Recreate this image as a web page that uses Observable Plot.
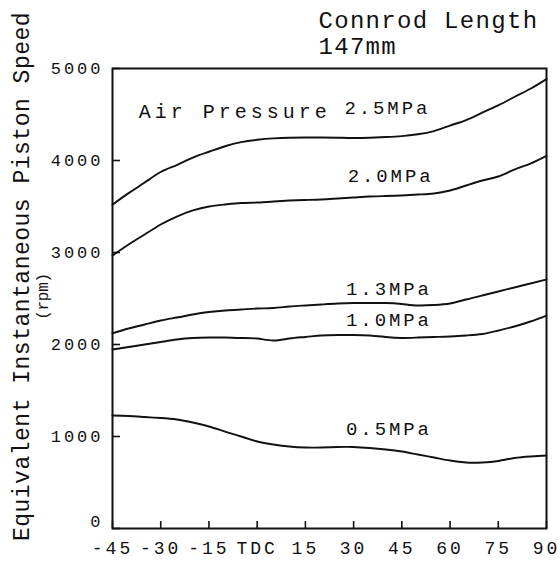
<!DOCTYPE html>
<html>
<head>
<meta charset="utf-8">
<script src="https://cdn.jsdelivr.net/npm/d3@7"></script>
<script src="https://cdn.jsdelivr.net/npm/@observablehq/plot@0.6"></script>
<style>
  html, body { margin: 0; padding: 0; background: #fff; }
  #chart svg { display: block; }
  [aria-label="x-axis tick label"], [aria-label="y-axis tick label"] { letter-spacing: 3px; }
</style>
</head>
<body>
<div id="chart"></div>
<script>
// Crank angle (degrees, TDC = 0)
const angles = [-45, -40, -35, -30, -25, -20, -15, -10, -5, 0, 5, 10, 15, 20, 25, 30, 35, 40, 45, 50, 55, 60, 65, 70, 75, 80, 85, 90];

// Equivalent instantaneous piston speed (rpm) per air pressure
const p05 = [1228, 1223, 1212, 1201, 1185, 1152, 1109, 1054, 1000, 946, 913, 891, 880, 880, 886, 886, 875, 859, 837, 804, 772, 739, 717, 717, 734, 766, 783, 793];
const p10 = [1946, 1973, 2000, 2027, 2054, 2071, 2076, 2076, 2071, 2065, 2043, 2065, 2082, 2098, 2103, 2103, 2098, 2082, 2071, 2076, 2082, 2087, 2098, 2114, 2152, 2196, 2250, 2315];
const p13 = [2120, 2174, 2217, 2261, 2293, 2326, 2353, 2370, 2380, 2391, 2397, 2413, 2424, 2435, 2446, 2451, 2451, 2451, 2440, 2424, 2429, 2446, 2489, 2533, 2576, 2620, 2663, 2707];
const p20 = [2967, 3087, 3196, 3304, 3391, 3457, 3500, 3522, 3538, 3543, 3554, 3565, 3571, 3576, 3587, 3598, 3609, 3614, 3620, 3630, 3641, 3674, 3728, 3783, 3826, 3902, 3967, 4050];
const p25 = [3520, 3645, 3760, 3875, 3951, 4032, 4095, 4155, 4200, 4225, 4240, 4248, 4250, 4250, 4248, 4245, 4248, 4255, 4265, 4285, 4320, 4380, 4440, 4520, 4600, 4690, 4780, 4885];

const seriesNames = ["0.5MPa", "1.0MPa", "1.3MPa", "2.0MPa", "2.5MPa"];
const seriesValues = [p05, p10, p13, p20, p25];

// Label anchors (data coordinates)
const labelAngles = [41, 41, 41, 41.5, 40.5];
const labelSpeeds = [1087, 2272, 2609, 3837, 4576];

const xTickValues = [-45, -30, -15, 0, 15, 30, 45, 60, 75, 90];
const xTickLabels = ["-45", "-30", "-15", "TDC", "15", "30", "45", "60", "75", "90"];
const yTickValues = [0, 1000, 2000, 3000, 4000, 5000];

const titleText = "Connrod Length\n147mm";
const yTitle = "Equivalent Instantaneous Piston Speed";
const yUnit = "(rpm)";
const legendTitle = "Air Pressure";

const rows = [];
seriesNames.forEach((name, s) => {
  angles.forEach((a, i) => rows.push({series: name, angle: a, speed: seriesValues[s][i]}));
});
const labels = seriesNames.map((name, s) => ({name, angle: labelAngles[s], speed: labelSpeeds[s]}));

const font = "Liberation Mono";

const chart = Plot.plot({
  width: 560, height: 563,
  marginLeft: 112, marginRight: 14, marginTop: 68, marginBottom: 35,
  style: {fontFamily: font, fontSize: "18px", color: "#111", background: "#fff"},
  x: {domain: [-45, 90]},
  y: {domain: [0, 5000]},
  marks: [
    Plot.frame({stroke: "#111", strokeWidth: 2}),
    Plot.ruleX(xTickValues, {x: d => d, insetTop: 453, stroke: "#111", strokeWidth: 1.6}),
    Plot.ruleY(yTickValues, {y: d => d, insetRight: 426, stroke: "#111", strokeWidth: 1.6}),
    Plot.axisX({ticks: xTickValues, tickFormat: d => xTickLabels[xTickValues.indexOf(d)], tickSize: 0, tickPadding: 13, label: null, fontSize: 18, fill: "#111"}),
    Plot.axisY({ticks: yTickValues.filter(d => d > 0), tickFormat: d => String(d), tickSize: 0, tickPadding: 9, label: null, fontSize: 17, fill: "#111"}),
    Plot.axisY({ticks: [0], tickFormat: d => String(d), tickSize: 0, tickPadding: 9, label: null, fontSize: 17, fill: "#111", dy: -7}),
    Plot.line(rows, {x: "angle", y: "speed", z: "series", stroke: "#111", strokeWidth: 1.9, curve: "natural"}),
    Plot.text(labels, {x: "angle", y: "speed", text: "name", fontSize: 19, fill: "#111"}),
    Plot.text([legendTitle], {x: -7, y: 4533, text: d => d, fontSize: 20, fill: "#111"}),
    Plot.text([titleText], {frameAnchor: "top-left", dx: 206, dy: -15, text: d => d, textAnchor: "start", lineAnchor: "bottom", lineHeight: 1.08, fontSize: 24, fill: "#111"}),
    Plot.text([yTitle], {frameAnchor: "left", dx: -91, dy: -22, rotate: -90, textAnchor: "middle", text: d => d, fontSize: 23, fill: "#111"}),
    Plot.text([yUnit], {frameAnchor: "left", dx: -70, dy: -2, rotate: -90, textAnchor: "middle", text: d => d, fontSize: 16, fill: "#111"})
  ]
});

// typewriter-like letter spacing per text group
d3.select(chart).selectAll("text").each(function () {
  const t = this.textContent;
  const sel = d3.select(this);
  if (seriesNames.includes(t)) sel.style("letter-spacing", "2.9px");
  else if (t === legendTitle) sel.style("letter-spacing", "4px");
  else if (t.startsWith("Connrod")) sel.style("letter-spacing", "1.3px");
  else if (t === yTitle) sel.style("letter-spacing", "0.5px");
  else if (t === yUnit) sel.style("letter-spacing", "-0.3px");
});

document.getElementById("chart").appendChild(chart);
</script>
</body>
</html>
